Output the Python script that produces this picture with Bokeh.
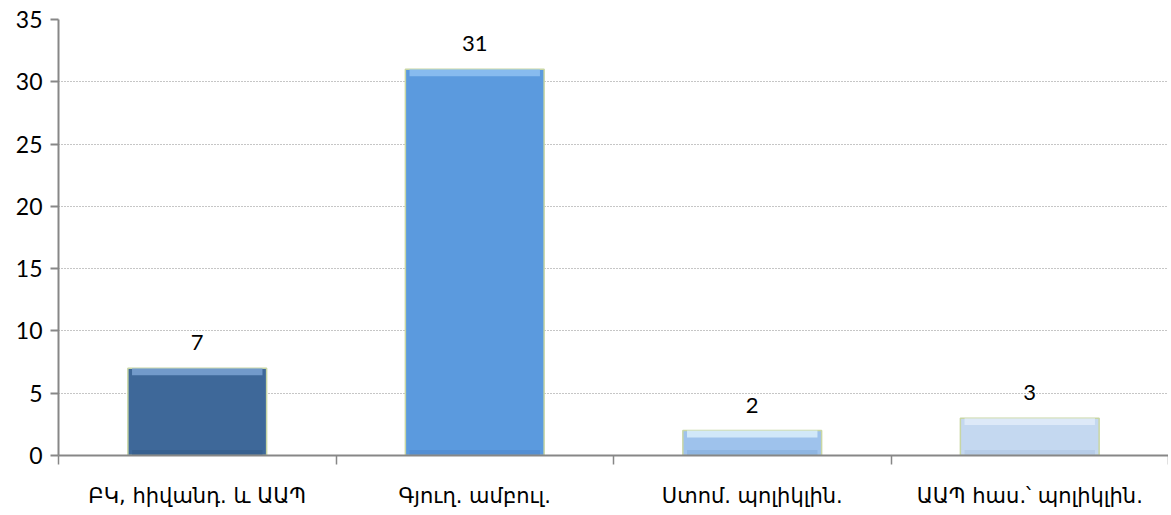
from bokeh.plotting import figure
from bokeh.models import FixedTicker, ColumnDataSource, Range1d
from bokeh.core.properties import value
from bokeh.embed import file_html
from bokeh.resources import INLINE

categories = ["ԲԿ, հիվանդ. և ԱԱՊ", "Գյուղ. ամբուլ.", "Ստոմ. պոլիկլին.", "ԱԱՊ հաս.՝ պոլիկլին."]
values = [7, 31, 2, 3]
colors = ["#3E6899", "#5B9ADE", "#9EC2EC", "#C4D8F0"]
highlight = ["#7FA6D6", "#92C3F3", "#DDF1FC", "#E3EEFA"]
shade = ["#365D8A", "#5089CC", "#86ADDC", "#AFC6E2"]
y_ticks = [0, 5, 10, 15, 20, 25, 30, 35]

xs = [i + 0.5 for i in range(len(categories))]

p = figure(width=1168, height=510, output_backend="svg", toolbar_location=None,
           x_range=Range1d(0, len(categories)), y_range=Range1d(0, 35),
           min_border_left=58, min_border_right=0, min_border_top=19, min_border_bottom=55)
p.outline_line_color = None
p.background_fill_color = "white"

src = ColumnDataSource(dict(x=xs, top=values, color=colors, hl=highlight, sh=shade,
                            hl_bottom=[v - 0.55 for v in values],
                            label=[str(v) for v in values]))

# main bars
p.vbar(x="x", top="top", bottom=0, width=0.5, source=src, fill_color="color",
       line_color="#C8D6A4", line_width=1.5)
# bevel highlight at top and shade at bottom
p.vbar(x="x", top="top", bottom="hl_bottom", width=0.47, source=src, fill_color="hl",
       line_color=None, fill_alpha=0.8)
p.vbar(x="x", top=0.45, bottom=0.05, width=0.47, source=src, fill_color="sh",
       line_color=None, fill_alpha=0.6)

p.text(x="x", y="top", text="label", source=src, text_align="center", text_baseline="bottom",
       y_offset=-18, text_font=value("Lato"), text_font_size="22px", text_color="black")

# grid
p.xgrid.grid_line_color = None
p.ygrid.grid_line_color = "#8C8C8C"
p.ygrid.grid_line_dash = "1 2"
p.ygrid.grid_line_width = 1
p.ygrid.ticker = FixedTicker(ticks=y_ticks[1:])

# y axis
p.yaxis.ticker = FixedTicker(ticks=y_ticks)
p.yaxis.axis_line_color = "#878787"
p.yaxis.axis_line_width = 2
p.yaxis.major_tick_line_color = "#878787"
p.yaxis.major_tick_line_width = 2
p.yaxis.major_tick_out = 8
p.yaxis.major_tick_in = 0
p.yaxis.minor_tick_line_color = None
p.yaxis.major_label_text_font = "Lato"
p.yaxis.major_label_text_font_size = "23px"
p.yaxis.major_label_text_color = "black"
p.yaxis.major_label_standoff = 8

# x axis
p.xaxis.ticker = FixedTicker(ticks=xs, minor_ticks=list(range(len(categories) + 1)))
p.xaxis.major_label_overrides = {x: c for x, c in zip(xs, categories)}
p.xaxis.axis_line_color = "#878787"
p.xaxis.axis_line_width = 2
p.xaxis.major_tick_line_color = None
p.xaxis.minor_tick_line_color = "#878787"
p.xaxis.minor_tick_line_width = 1.5
p.xaxis.minor_tick_out = 9
p.xaxis.minor_tick_in = 0
p.xaxis.major_label_text_font = "DejaVu Sans"
p.xaxis.major_label_text_font_size = "21px"
p.xaxis.major_label_text_color = "black"
p.xaxis.major_label_standoff = 19

open("out.html", "w").write(file_html(p, INLINE))
